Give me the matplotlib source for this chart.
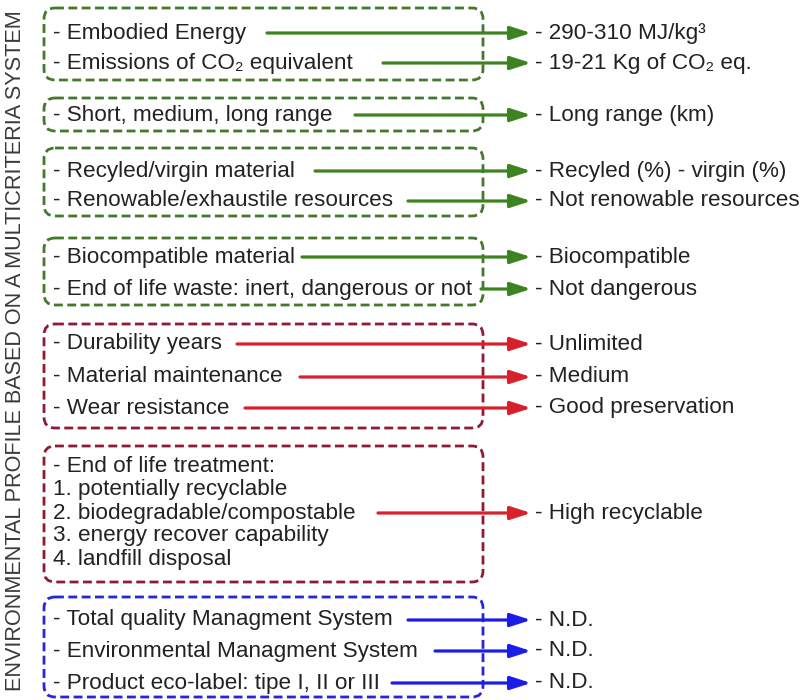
import matplotlib
matplotlib.use("Agg")
import matplotlib.pyplot as plt
from matplotlib.patches import FancyBboxPatch, FancyArrowPatch

FONT = ["Liberation Sans", "DejaVu Sans"]
plt.rcParams["font.family"] = FONT

# criteria (left) -> values (right)
left_items = [
    "- Embodied Energy",
    "- Emissions of CO\u2082 equivalent",
    "- Short, medium, long range",
    "- Recyled/virgin material",
    "- Renowable/exhaustile resources",
    "- Biocompatible material",
    "- End of life waste: inert, dangerous or not",
    "- Durability years",
    "- Material maintenance",
    "- Wear resistance",
    "2. biodegradable/compostable",
    "- Total quality Managment System",
    "- Environmental Managment System",
    "- Product eco-label: tipe I, II or III",
]
right_items = [
    "- 290-310 MJ/kg\u00b3",
    "- 19-21 Kg of CO\u2082 eq.",
    "- Long range (km)",
    "- Recyled (%) - virgin (%)",
    "- Not renowable resources",
    "- Biocompatible",
    "- Not dangerous",
    "- Unlimited",
    "- Medium",
    "- Good preservation",
    "- High recyclable",
    "- N.D.",
    "- N.D.",
    "- N.D.",
]
# which group each row belongs to
row_group = [0, 0, 1, 2, 2, 3, 3, 4, 4, 4, 5, 6, 6, 6]
extra_lines = ["- End of life treatment:", "1. potentially recyclable",
               "3. energy recover capability", "4. landfill disposal"]
side_title = "ENVIRONMENTAL PROFILE BASED ON A MULTICRITERIA SYSTEM"

# layout (pixels)
row_y = [33, 63, 115, 171, 201, 257, 289, 344, 377, 408, 513, 620, 651, 683]
arrow_x0 = [267, 383, 355, 315, 408, 302, 481, 237, 300, 245, 378, 408, 435, 392]
extra_y = [466, 489, 536, 559]
box_top = [8, 98, 148, 238, 324, 446, 597]
box_bot = [80, 131, 216, 305, 428, 582, 697]
group_kind = ["g", "g", "g", "g", "r", "r", "b"]
arrow_col = {"g": "#3d8420", "r": "#d8202c", "b": "#1c1ce8"}
box_col = {"g": "#44782a", "r": "#8e1a34", "b": "#2626d8"}
txt_col = "#222222"
fs = 16.2

fig = plt.figure(figsize=(8.02, 7.0), dpi=100)
ax = fig.add_axes([0, 0, 1, 1])
ax.set_xlim(0, 802)
ax.set_ylim(700, 0)
ax.axis("off")

for top, bot, k in zip(box_top, box_bot, group_kind):
    ax.add_patch(FancyBboxPatch((44, top), 439, bot - top,
                                boxstyle="round,pad=0,rounding_size=11",
                                fill=False, ec=box_col[k], lw=2.0,
                                linestyle=(0, (3.2, 1.6))))

for txt, rt, y, x0, g in zip(left_items, right_items, row_y, arrow_x0, row_group):
    k = group_kind[g]
    ax.text(53, y, txt, fontsize=fs, color=txt_col, va="center", ha="left")
    ax.add_patch(FancyArrowPatch((x0, y), (531, y),
                                 arrowstyle="-|>,head_length=0.62,head_width=0.2",
                                 mutation_scale=20, color=arrow_col[k], lw=2.3,
                                 shrinkA=0, shrinkB=0))
    ax.text(535, y, rt, fontsize=fs, color=txt_col, va="center", ha="left")

for txt, y in zip(extra_lines, extra_y):
    ax.text(53, y, txt, fontsize=fs, color=txt_col, va="center", ha="left")

ax.text(16, 351, side_title, fontsize=15.6, color="#3a3a3a", rotation=90,
        va="center", ha="center")

fig.savefig("out.png", dpi=100)
